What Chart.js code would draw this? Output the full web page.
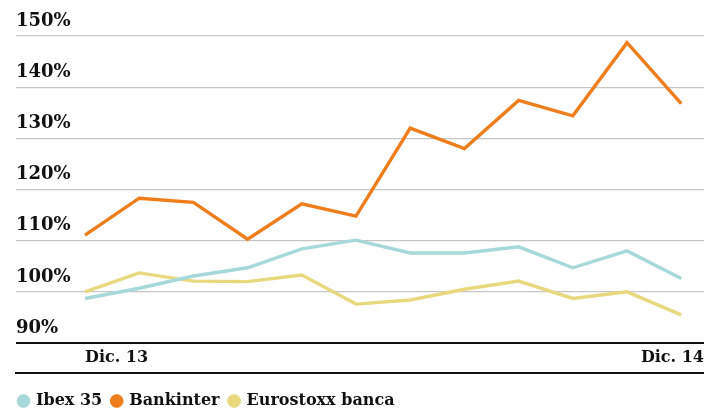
<!DOCTYPE html>
<html>
<head>
<meta charset="utf-8">
<script src="https://cdn.jsdelivr.net/npm/chart.js@4/dist/chart.umd.min.js"></script>
<style>
  html, body { margin: 0; padding: 0; background: #fff; }
  #wrap { width: 704px; height: 409px; }
</style>
</head>
<body>
<div id="wrap"><canvas id="chart"></canvas></div>
<script>
// datos (indice 100 = Dic. 13)
const meses = [0, 1, 2, 3, 4, 5, 6, 7, 8, 9, 10, 11];
const ibex35 = [98.7, 100.7, 103.1, 104.7, 108.4, 110.1, 107.6, 107.6, 108.8, 104.7, 108.0, 102.6];
const bankinter = [111.1, 118.3, 117.5, 110.3, 117.2, 114.8, 132.0, 128.0, 137.4, 134.4, 148.7, 136.8];
const eurostoxxBanca = [100.0, 103.7, 102.1, 102.0, 103.3, 97.6, 98.4, 100.5, 102.1, 98.7, 100.0, 95.5];
const etiquetasX = ['Dic. 13', 'Dic. 14'];
const etiquetasY = [90, 100, 110, 120, 130, 140, 150];

const fuente = '"DejaVu Serif", serif';
const xMin = -1.273;
const xMax = 11.42;

function puntos(serie) {
    return serie.map((v, i) => ({ x: meses[i], y: v }));
}

const ctx = document.getElementById('chart').getContext('2d');
new Chart(ctx, {
    type: 'line',
    data: {
        datasets: [
            { label: 'Ibex 35', data: puntos(ibex35), borderColor: '#a7d8da', backgroundColor: '#a7d8da' },
            { label: 'Bankinter', data: puntos(bankinter), borderColor: '#ee7d1b', backgroundColor: '#ee7d1b' },
            { label: 'Eurostoxx banca', data: puntos(eurostoxxBanca), borderColor: '#e8d97f', backgroundColor: '#e8d97f' }
        ]
    },
    options: {
        responsive: true,
        maintainAspectRatio: false,
        animation: false,
        layout: { padding: { top: 36, left: 9, right: 0, bottom: -10 } },
        elements: {
            line: { borderWidth: 3.4, tension: 0, borderJoinStyle: 'miter' },
            point: { radius: 0 }
        },
        scales: {
            x: {
                type: 'linear',
                min: xMin,
                max: xMax,
                afterBuildTicks: (scale) => { scale.ticks = [{ value: 0 }, { value: xMax }]; },
                afterFit: (scale) => { scale.height = 30; },
                grid: { display: false, drawTicks: false },
                border: { display: false },
                ticks: {
                    align: 'inner',
                    padding: 0,
                    color: '#111',
                    font: { family: fuente, size: 16, weight: 'bold', lineHeight: '30px' },
                    callback: (v, i) => etiquetasX[i]
                }
            },
            x2: {
                type: 'linear',
                position: 'bottom',
                min: xMin,
                max: xMax,
                afterFit: (scale) => { scale.height = 10; },
                grid: { display: false, drawTicks: false },
                border: { display: true, color: '#111', width: 2 },
                ticks: { display: false }
            },
            y: {
                min: 90,
                max: 150,
                afterBuildTicks: (scale) => { scale.ticks = etiquetasY.map(v => ({ value: v })); },
                afterFit: (scale) => { scale.width = 7; },
                border: { display: false },
                grid: {
                    drawTicks: false,
                    color: (c) => c.tick && c.tick.value === 90 ? '#111' : '#c6c6c6',
                    lineWidth: (c) => c.tick && c.tick.value === 90 ? 2 : 1.3
                },
                ticks: {
                    mirror: true,
                    padding: 0,
                    labelOffset: -15,
                    color: '#111',
                    font: { family: fuente, size: 18, weight: 'bold' },
                    callback: (v) => v + '%'
                }
            }
        },
        plugins: {
            tooltip: { enabled: false },
            legend: {
                position: 'bottom',
                align: 'start',
                labels: {
                    usePointStyle: true,
                    pointStyle: 'circle',
                    boxHeight: 9,
                    boxWidth: 9,
                    padding: 10,
                    color: '#111',
                    font: { family: fuente, size: 16, weight: 'bold' }
                }
            }
        }
    }
});
</script>
</body>
</html>
